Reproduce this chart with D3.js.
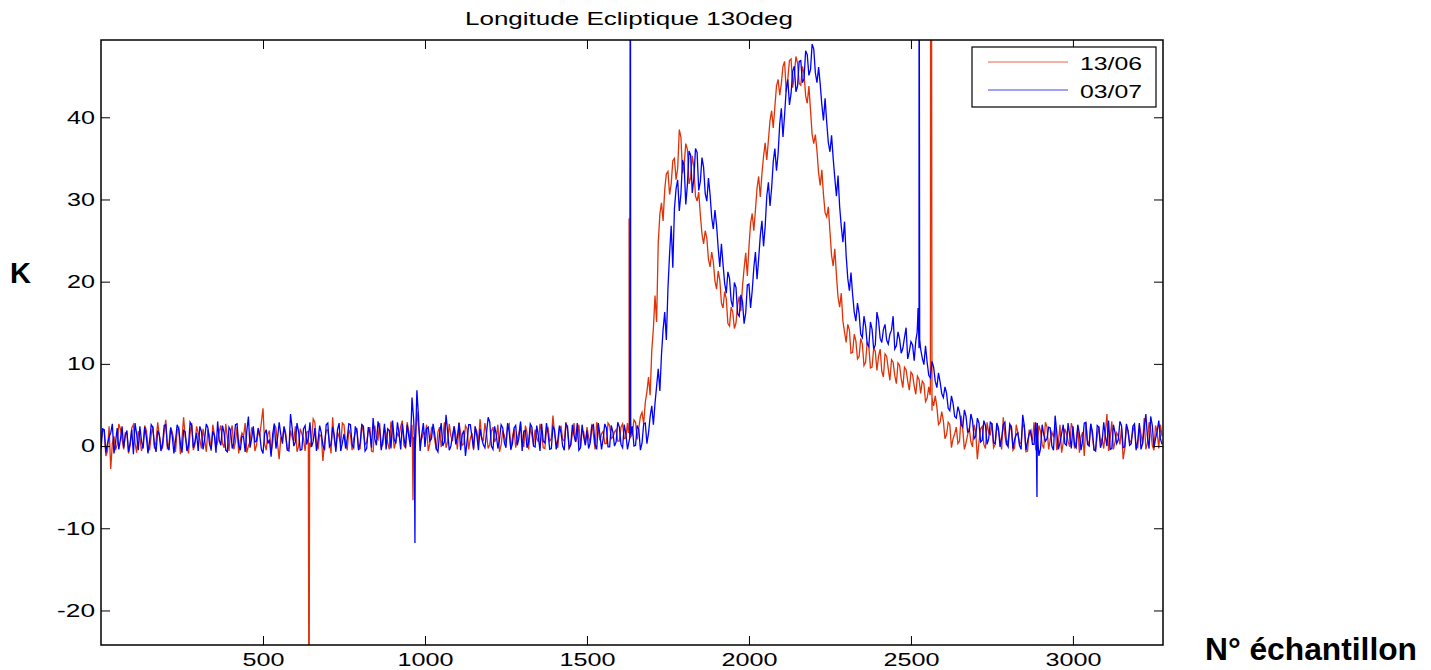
<!DOCTYPE html>
<html>
<head>
<meta charset="utf-8">
<script src="https://cdn.jsdelivr.net/npm/d3@7"></script>
<style>
  body { margin: 0; background: #fff; }
  svg { display: block; font-family: "Liberation Sans", Arial, Helvetica, sans-serif; }
</style>
</head>
<body>
<div id="chart"></div>
<script>
// values, one every 10 samples (0, 10, 20 ...)
const step = 10;

const red1306 = [
    0.5, 1.8, -0.6, -2.8, 1.2, 0.2, 2.1, -0.4, 1.5, 0.1, 2.6, -0.8, 1.0, 0.3, 1.9, -0.5, 2.4, 0.6, 1.3, -0.2,
    3.2, 0.4, 1.7, -0.7, 2.2, 0.9, 1.1, -0.9, 2.8, 0.2, 1.6, -0.3, 0.8, 2.0, -0.6, 1.4, 0.5, 2.5, -0.2, 1.0,
    1.8, -0.4, 2.3, 0.7, 1.2, -0.8, 0.6, 2.1, 0.1, 1.3, 4.6, -0.5, 1.9, 0.4, 2.2, -1.6, 0.9, 1.6, -0.3, 1.1,
    2.4, 0.0, 1.5, -0.6, 1.8, 0.7, 2.9, -0.4, 1.2, 0.5, 2.0, -0.9, 0.8, 1.7, 0.2, 2.6, -0.5, 1.4, 0.9, 2.2,
    -0.3, 1.6, 0.4, 2.3, -0.7, 1.1, 2.8, 0.2, 1.5, -0.4, 2.0, 0.6, 1.2, 3.1, -0.2, 1.8, 2.6, 0.3, 2.4, 0.9,
    1.4, -0.6, 2.2, 0.8, 1.7, -0.1, 2.9, 0.5, 1.2, 2.4, -0.4, 1.6, 0.3, 2.1, 0.9, -0.5, 1.8, 3.3, 0.6, 1.5,
    0.2, 2.3, 1.0, -0.7, 1.9, 0.4, 2.7, 1.1, -0.2, 1.6, 0.8, 2.5, -0.4, 1.3, 2.0, 0.5, 1.7, -0.3, 2.2, 0.9,
    1.5, -0.2, 2.4, 0.6, 1.9, 0.1, 2.8, 1.2, -0.1, 1.7, 2.3, 0.4, 1.4, 2.9, 0.7, 1.8, 0.3, 2.5, 1.1, 2.0,
    0.6, 2.7, 1.0, 2.4, 1.4, 2.9, 2.2, 4.1, 5.3, 8.4, 11.6, 18.3, 24.7, 29.6, 31.2, 33.4, 31.9, 35.0, 33.8, 37.6,
    34.2, 36.1, 32.7, 33.9, 29.8, 28.1, 24.6, 25.3, 21.8, 22.4, 19.1, 20.2, 16.8, 17.9, 14.6, 16.3, 15.0, 18.2, 19.4, 23.5,
    24.2, 28.3, 28.7, 32.8, 33.1, 36.9, 37.2, 40.8, 41.3, 44.6, 44.1, 46.8, 44.7, 47.1, 45.2, 46.6, 43.9, 45.3, 41.7, 40.9,
    36.8, 35.9, 31.7, 30.6, 27.9, 26.1, 21.9, 20.8, 16.9, 15.2, 12.6, 14.1, 11.4, 12.8, 10.9, 12.4, 10.2, 12.1, 9.6, 11.5,
    10.9, 9.1, 11.2, 9.4, 10.5, 8.6, 10.1, 8.2, 9.6, 7.9, 9.0, 7.3, 8.5, 6.4, 7.6, 5.8, 6.7, 4.9, 4.8, 2.9,
    3.1, 1.4, 2.6, 0.9, 2.3, 0.6, 2.0, 0.4, 2.2, -0.1, 1.7, 0.5, 2.4, -0.3, 1.6, 2.8, 0.2, 1.9, -0.4, 1.3,
    0.7, 2.5, -0.2, 1.6, 0.3, 2.2, -0.6, 1.4, 2.9, 0.1, 1.8, -0.3, 2.3, 0.8, 1.1, -0.5, 2.6, 0.4, 1.5, -0.1,
    2.1, 0.6, -0.8, 1.7, 2.8, 0.2, 1.3, -0.4, 2.4, 0.9, 1.6, -0.6, 3.0, 0.5, 1.2, 2.2, -0.3, 1.8, 0.7, 2.5,
    -0.2, 1.5, 3.4, 0.4, 2.0, -0.5, 1.7, 2.6
];

// in between samples (5, 15, 25 ...)
const red1306Mid = [
    1.9, -1.2, 2.4, 0.3, -0.5, 2.7, 0.9, 1.6, -0.9, 2.2, 0.4, 1.8, -0.6, 2.5, 0.1, 1.4, -0.3, 2.9, 0.2, 1.7,
    -0.4, 2.3, 0.6, 1.9, -1.0, 3.5, 0.2, 1.5, -0.5, 2.4, 0.8, 2.1, -0.7, 1.2, 2.6, -0.2, 1.8, 0.3, 2.7, -0.6,
    2.5, 0.5, -0.9, 1.6, 2.8, 0.0, 2.2, -0.6, 1.7, 2.9, 0.3, 1.4, -0.8, 2.6, 0.2, 1.0, 2.3, -0.4, 1.9, 0.6,
    -0.7, 2.1, 0.9, 1.7, -0.2, 3.3, 0.4, 1.4, -1.8, 1.9, 0.6, 3.5, -0.3, 1.1, 2.8, 0.5, 2.0, -0.5, 1.6, -0.4,
    2.7, 0.2, 1.8, -0.6, 2.5, 0.8, -0.1, 2.2, 0.4, 3.0, -0.3, 1.5, 2.4, 0.1, 2.9, 0.3, 1.1, 4.2, 0.6, 1.7,
    2.6, 0.3, 1.9, -0.5, 2.3, 1.0, -0.2, 2.7, 0.6, 1.4, 2.9, 0.1, 2.5, -0.4, 1.6, 2.2, 0.4, 1.1, 2.8, -0.3,
    1.8, 0.5, 2.6, 0.1, 1.3, 2.4, -0.5, 2.1, 0.9, 2.8, -0.1, 1.6, 2.3, 0.2, 1.0, 2.7, -0.2, 1.9, 0.6, 3.7,
    0.4, 2.2, 0.8, 2.9, -0.3, 1.5, 0.5, 2.6, 1.9, 0.2, 1.1, 2.7, -0.4, 2.0, 1.5, 0.3, 2.8, 0.9, 1.7, 0.6,
    2.3, 0.9, 2.8, 1.1, 3.2, 0.8, 3.6, 2.7, 6.6, 6.2, 14.3, 15.1, 28.2, 27.4, 33.1, 30.6, 34.7, 32.4, 38.5, 33.2,
    36.8, 31.9, 35.3, 30.4, 30.9, 25.8, 26.2, 22.7, 23.6, 20.1, 21.3, 17.4, 18.8, 14.9, 16.9, 14.3, 17.2, 16.4, 21.6, 20.7,
    27.1, 26.2, 31.4, 30.3, 35.2, 34.8, 39.6, 38.7, 43.8, 42.7, 46.2, 43.1, 46.9, 43.6, 47.4, 44.1, 46.2, 42.6, 43.8, 37.9,
    37.9, 33.2, 33.6, 28.4, 29.1, 23.2, 24.0, 18.1, 18.6, 13.9, 14.8, 11.3, 13.6, 10.6, 13.1, 9.8, 12.7, 9.5, 11.9, 9.2,
    11.8, 8.4, 10.9, 8.0, 10.2, 7.6, 9.8, 7.1, 9.3, 6.8, 8.7, 6.3, 8.1, 7.9, 5.4, 7.2, 4.3, 6.1, 2.6, 4.2,
    0.9, 2.9, -0.2, 1.5, 0.3, 3.7, -0.4, 1.4, 0.5, 2.6, -1.6, 2.1, 0.2, 2.9, 1.4, -0.2, 2.3, 0.8, 3.5, 0.1,
    1.9, -0.5, 2.6, 0.4, 2.8, -0.7, 2.0, 0.6, -0.3, 2.5, 0.2, 2.9, -0.4, 1.7, 2.4, 0.3, -0.8, 2.1, 0.6, 2.8,
    -0.3, 2.4, 1.1, -1.2, 0.6, 2.7, -0.5, 1.2, 0.4, -0.3, 3.9, 1.0, -0.4, 1.6, 0.2, -1.6, 2.3, 0.4, 1.8, -0.2,
    2.6, 0.3, -0.4, 2.9, 0.1, 2.5, -0.3, 1.2
];

const blue0307 = [
    -0.4, 2.0, 0.3, 1.6, -0.9, 2.2, 0.8, -0.2, 1.9, 0.4, -1.0, 1.5, 2.4, -0.3, 1.1, 0.6, 2.3, -0.7, 1.4, 0.2,
    2.6, -0.5, 1.2, 0.7, 2.1, -0.8, 1.7, 0.0, 2.5, 0.5, -0.6, 1.8, 0.9, 2.2, -0.4, 1.3, 3.0, 0.1, 1.6, -0.7,
    1.9, 0.4, 2.7, -0.5, 1.1, 1.8, -0.2, 2.4, 0.6, 1.4, -0.9, 2.0, 0.8, 1.5, -0.3, 2.9, 0.3, 1.2, -0.6, 2.2,
    0.5, 1.7, -0.4, 2.5, 1.0, -0.1, 2.2, 0.7, 1.6, -0.5, 2.8, 0.2, 1.3, 2.0, -0.6, 1.5, 0.9, 2.6, -0.2, 1.8,
    0.4, 2.4, -0.3, 1.6, 3.4, 0.1, 2.1, 0.8, -0.4, 1.9, 3.1, 0.3, 1.5, 2.7, -0.2, 1.2, 5.9, -0.5, 3.6, 1.4,
    -0.1, 2.3, 0.9, 1.5, -0.7, 2.8, 0.5, 1.7, 0.0, 2.4, 1.1, -0.5, 1.9, 0.6, 2.6, -0.3, 1.3, 2.1, 0.2, 1.6,
    2.9, -0.4, 1.4, 0.8, 2.2, -0.2, 1.7, 0.3, 2.5, 1.0, -0.6, 1.9, 0.5, 2.3, -0.1, 1.2, 2.7, 0.4, 1.5, -0.3,
    2.0, 0.7, 1.6, -0.5, 2.4, 0.2, 1.3, 2.8, -0.2, 1.1, 1.9, 0.4, 2.6, -0.4, 1.4, 0.9, 2.2, -0.1, 1.7, 0.5,
    2.3, -0.2, 1.5, 0.6, 2.4, 0.1, 2.0, 0.4, 2.8, 1.6, 4.9, 5.2, 9.4, 11.1, 16.3, 19.2, 26.8, 28.9, 32.4, 30.7,
    34.1, 31.8, 35.4, 32.6, 35.7, 32.2, 33.9, 29.8, 30.6, 26.4, 26.9, 21.8, 22.1, 18.6, 20.4, 16.9, 19.3, 15.8, 17.6, 16.2,
    19.7, 18.9, 23.6, 22.8, 27.4, 26.7, 32.1, 31.4, 36.2, 35.6, 41.1, 40.3, 44.6, 42.9, 46.2, 43.8, 46.9, 44.7, 47.6, 45.8,
    48.3, 44.2, 44.0, 39.6, 39.4, 35.8, 35.0, 30.4, 29.1, 24.8, 23.2, 18.9, 18.4, 15.2, 16.1, 13.2, 14.6, 12.1, 14.2, 12.3,
    15.3, 12.6, 14.8, 12.4, 14.1, 11.8, 13.9, 11.3, 13.2, 10.6, 12.7, 10.4, 14.6, 11.8, 9.9, 10.2, 8.3, 9.6, 7.1, 7.8,
    5.9, 6.4, 4.3, 5.2, 3.4, 4.1, 2.3, 3.6, 1.8, 3.1, 1.2, 2.8, 0.7, 2.5, 0.9, 2.7, 0.3, 2.2, 1.0, 2.9,
    -0.1, 2.3, 0.8, 1.6, -0.4, 2.5, 0.6, 1.9, 0.2, 2.8, -0.3, 1.4, 0.9, 2.2, -0.5, 1.7, 0.4, 2.6, 0.1, 1.3,
    2.4, -0.2, 1.5, 0.7, 2.9, 0.0, 1.8, -0.6, 2.3, 0.5, 1.2, 3.1, -0.3, 1.6, 0.8, 2.5, -0.1, 1.9, 0.3, 2.7,
    0.6, -0.4, 2.2, 1.1, 3.6, -0.2, 1.8, 0.9
];

const blue0307Mid = [
    2.1, -0.8, 1.1, 2.7, 0.5, -0.4, 2.4, 1.3, -0.7, 2.0, 2.8, -0.5, 0.6, 2.3, -0.9, 2.6, 0.1, 1.9, -0.6, 2.5,
    0.0, 2.2, -0.9, 2.6, 0.3, 1.9, -0.6, 2.9, -0.2, 1.6, 2.4, -0.4, 2.7, 0.2, 1.8, -0.8, 0.7, 2.5, -0.5, 2.3,
    -0.3, 2.6, 0.1, 1.2, -0.7, 3.6, 0.9, 0.5, 2.2, -0.4, 1.5, 0.3, -1.3, 2.7, 1.0, 1.4, 2.4, -0.5, 3.9, 0.0,
    2.8, -0.5, 2.1, 0.2, 2.9, 0.6, -0.6, 2.5, 0.1, 2.6, -0.1, 2.3, -0.7, 2.8, 0.4, -0.3, 2.7, 0.2, 2.4, -0.5,
    2.6, -0.6, 2.3, -0.2, 0.9, 3.0, -0.5, 2.7, 2.1, -0.3, 0.8, 2.9, -0.4, 1.0, 2.6, -0.1, 3.3, 6.8, -0.6, 2.8,
    2.1, 0.6, 2.7, -0.3, 1.5, 0.0, 3.8, -0.5, 1.3, 0.2, 2.8, 1.4, -1.2, 2.6, 1.1, 2.4, -0.5, 0.9, -0.2, 3.5,
    0.0, 2.4, -0.3, 2.6, 0.4, 2.8, -0.4, 2.2, 0.1, 3.0, 1.8, -0.2, 2.7, 0.0, 2.5, -0.6, 0.6, 2.8, -0.4, 2.4,
    -0.4, 2.5, 0.0, 2.7, -0.2, 2.6, 0.5, -0.5, 2.6, 0.1, -0.3, 2.4, 0.2, 2.8, -0.4, 2.7, -0.1, 2.5, 0.0, 2.9,
    0.2, 2.6, -0.4, 2.9, 0.0, 2.5, -0.5, 2.7, 0.3, 3.6, 2.6, 7.3, 6.7, 14.2, 12.9, 23.4, 21.7, 31.3, 28.6, 34.8,
    29.4, 35.9, 30.8, 36.2, 31.1, 35.1, 30.7, 32.6, 27.8, 28.7, 24.1, 24.6, 19.8, 21.2, 17.7, 19.9, 16.1, 18.4, 14.9, 19.6,
    16.8, 21.7, 20.3, 25.6, 24.3, 30.4, 29.2, 34.6, 33.5, 39.2, 37.6, 43.4, 41.5, 45.6, 43.1, 46.8, 44.2, 48.1, 45.1, 48.9,
    45.4, 46.1, 41.5, 42.3, 36.9, 37.8, 32.6, 32.9, 26.7, 27.3, 20.4, 21.1, 16.3, 17.4, 13.6, 15.8, 12.4, 15.1, 11.8, 16.3,
    13.1, 14.2, 12.9, 13.6, 15.8, 12.2, 13.0, 11.9, 14.4, 11.5, 12.3, 12.8, 11.9, 10.7, 12.2, 8.6, 10.3, 7.9, 8.9, 6.4,
    7.2, 4.6, 6.1, 3.6, 4.8, 2.6, 4.4, 1.7, 3.9, 0.9, 3.4, 0.5, 3.1, 0.2, 2.9, 0.4, 2.8, -0.1, 2.6, 0.3,
    2.7, -0.3, 1.4, 0.1, 3.8, -0.5, 1.5, 0.2, 2.9, -1.2, 2.6, 0.6, 2.3, 0.0, 3.7, -0.4, 1.5, 0.3, 2.8, -0.3,
    0.1, 2.6, -0.5, 2.8, 0.2, 2.7, -0.4, 2.5, -0.2, 2.9, 0.0, -0.4, 2.6, 0.3, 3.0, -0.2, 2.7, 0.1, 2.4, -0.5,
    2.8, 0.3, 3.9, -0.3, 2.5, 0.9, 3.1, 0.2
];

// single-sample glitches [sample, value]
const redSpikes = [
    [640, -1.2], [642, -40], [644, 0.4],
    [961, 1.0], [963, -6.6], [965, 0.8],
    [1628, 1.6], [1630, 27.7], [1632, 1.9],
    [2559, 6.2], [2561, 80], [2563, 80], [2565, 5.8]
];
const blueSpikes = [
    [967, 1.2], [969, -11.8], [971, 0.9],
    [1632, 1.0], [1634, 80], [1636, 1.4],
    [2519, 13.8], [2522, 16.8], [2525, 80], [2527, 13.0],
    [2887, 0.8], [2889, -6.2], [2891, 1.1]
];

const seriesNames = ["13/06", "03/07"];
const seriesColors = ["#df3208", "#0000ff"];
const xTicks = [500, 1000, 1500, 2000, 2500, 3000];
const yTicks = [-20, -10, 0, 10, 20, 30, 40];

const width = 1431,
    height = 670,
    margin = ({top: 40, right: 268, bottom: 25, left: 101});

const svg = d3.select("#chart")
    .append("svg")
    .attr("width", width)
    .attr("height", height)
    .attr("viewBox", [0, 0, width, height]);

const x = d3.scaleLinear()
    .domain([0, 3278])
    .range([margin.left, width - margin.right]);

const y = d3.scaleLinear()
    .domain([-24.2, 49.4])
    .range([height - margin.bottom, margin.top]);

function toPoints(vals, mids, spikes) {
    let pts = vals.map((v, i) => [i * step, v])
        .concat(mids.map((v, i) => [i * step + step / 2, v]))
        .concat(spikes);
    pts.sort((a, b) => a[0] - b[0]);
    return pts;
}

svg.append("clipPath")
    .attr("id", "plot")
    .append("rect")
    .attr("x", x.range()[0])
    .attr("y", y.range()[1])
    .attr("width", x.range()[1] - x.range()[0])
    .attr("height", y.range()[0] - y.range()[1]);

const line = d3.line()
    .x(d => x(d[0]))
    .y(d => y(d[1]));

const lines = svg.append("g").attr("clip-path", "url(#plot)");

lines.append("path")
    .attr("fill", "none")
    .attr("stroke", seriesColors[0])
    .attr("stroke-width", 1.3)
    .attr("d", line(toPoints(red1306, red1306Mid, redSpikes)));

lines.append("path")
    .attr("fill", "none")
    .attr("stroke", seriesColors[1])
    .attr("stroke-width", 1.3)
    .attr("d", line(toPoints(blue0307, blue0307Mid, blueSpikes)));

// axes, ticks inside like matlab
const fmt = d => String(d);

const xAxis = g => g
    .attr("transform", `translate(0,${y.range()[0]})`)
    .call(d3.axisBottom(x).tickValues(xTicks).tickFormat(fmt).tickSize(-9).tickPadding(8).tickSizeOuter(0));

const yAxis = g => g
    .attr("transform", `translate(${x.range()[0]},0)`)
    .call(d3.axisLeft(y).tickValues(yTicks).tickFormat(fmt).tickSize(-9).tickPadding(6).tickSizeOuter(0));

svg.append("g").call(xAxis);
svg.append("g").call(yAxis);

svg.append("g")
    .attr("transform", `translate(0,${y.range()[1]})`)
    .call(d3.axisTop(x).tickValues(xTicks).tickSize(-9).tickFormat("").tickSizeOuter(0));

svg.append("g")
    .attr("transform", `translate(${x.range()[1]},0)`)
    .call(d3.axisRight(y).tickValues(yTicks).tickSize(-9).tickFormat("").tickSizeOuter(0));

svg.selectAll(".domain").remove();
svg.selectAll(".tick line").attr("stroke", "#000").attr("stroke-width", 1);
svg.selectAll(".tick text")
    .attr("fill", "#000")
    .style("font-size", "18px")
    .attr("lengthAdjust", "spacingAndGlyphs")
    .attr("textLength", function() {
        const s = d3.select(this).text();
        let w = 0;
        for (const c of s) w += (c === "-") ? 10 : 14;
        return w;
    });

svg.append("rect")
    .attr("x", x.range()[0])
    .attr("y", y.range()[1])
    .attr("width", x.range()[1] - x.range()[0])
    .attr("height", y.range()[0] - y.range()[1])
    .attr("fill", "none")
    .attr("stroke", "#000")
    .attr("stroke-width", 1.5);

// title + axis labels
svg.append("text")
    .attr("x", 465)
    .attr("y", 25)
    .attr("textLength", 328)
    .attr("lengthAdjust", "spacingAndGlyphs")
    .style("font-size", "18px")
    .text("Longitude Ecliptique 130deg");

svg.append("text")
    .attr("x", 10)
    .attr("y", 283)
    .style("font-size", "29px")
    .style("font-weight", "bold")
    .text("K");

svg.append("text")
    .attr("x", 1205)
    .attr("y", 660)
    .attr("textLength", 212)
    .attr("lengthAdjust", "spacingAndGlyphs")
    .style("font-size", "31px")
    .style("font-weight", "bold")
    .text("N° échantillon");

// legend
const legend = svg.append("g");
legend.append("rect")
    .attr("x", 972)
    .attr("y", 47)
    .attr("width", 184)
    .attr("height", 60)
    .attr("fill", "#fff")
    .attr("stroke", "#000")
    .attr("stroke-width", 1.2);

seriesNames.forEach((name, i) => {
    const ly = 62 + i * 28;
    legend.append("line")
        .attr("x1", 988).attr("x2", 1068)
        .attr("y1", ly).attr("y2", ly)
        .attr("stroke", seriesColors[i])
        .attr("stroke-opacity", 0.75)
        .attr("stroke-width", 1);
    legend.append("text")
        .attr("x", 1080)
        .attr("y", ly + 8)
        .attr("textLength", 62)
        .attr("lengthAdjust", "spacingAndGlyphs")
        .style("font-size", "18px")
        .text(name);
});
</script>
</body>
</html>
